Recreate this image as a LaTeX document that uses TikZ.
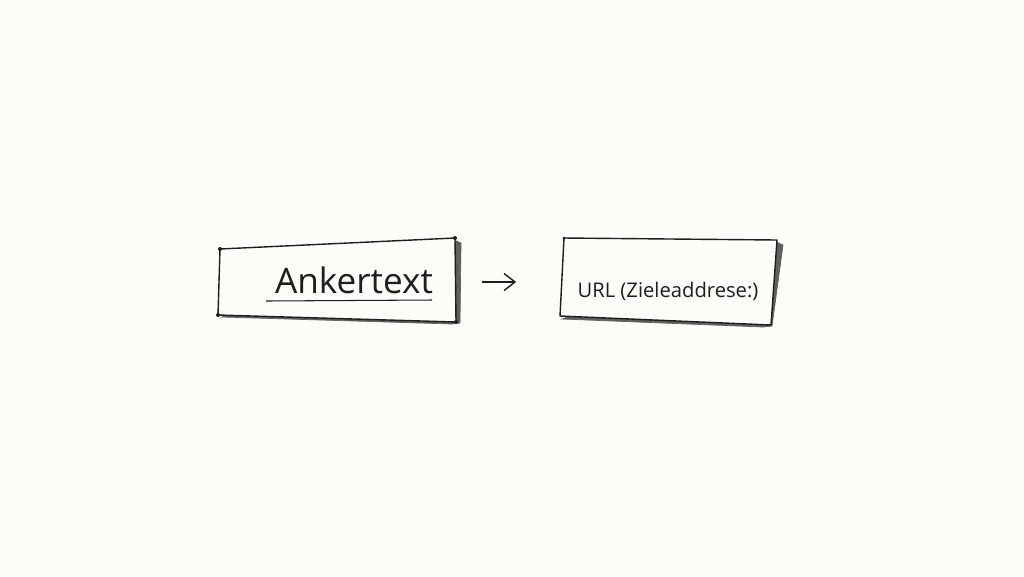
\documentclass[tikz,border=0pt]{standalone}
\usepackage{fontspec}
\setmainfont{Open Sans}
\usepackage{tikz}
\usetikzlibrary{calc,arrows.meta}
\definecolor{paper}{RGB}{252,252,249}
\definecolor{ink}{RGB}{30,30,30}
\definecolor{shade}{RGB}{95,95,92}
\tikzset{
  sketch/.style  = {draw=ink, line width=0.8pt, fill=paper, line join=round},
  shadow/.style  = {fill=shade, draw=shade, line width=0.4pt},
  corner/.style  = {fill=ink},
  link/.style    = {-{Straight Barb[length=2.2mm,width=3.4mm]}, draw=ink, line width=0.8pt},
  bigword/.style = {font=\fontsize{20}{24}\selectfont, text=ink},
  smallword/.style = {font=\fontsize{11.5}{14}\selectfont, text=ink},
  frame/.style   = {inner sep=0pt}
}

\begin{document}
\begin{tikzpicture}[x=0.02cm, y=-0.02cm]
    % page
    \fill[paper] (0,0) rectangle (1024,576);
    \useasboundingbox (0,0) rectangle (1024,576);

    % left box (anchor text)
    \path[shadow] (454,240) -- (461,243) -- (460,323) -- (452,324) -- (222,317) -- cycle;
    \path[sketch] (220,249) -- (455,238) -- (456,322) -- (218,315) -- cycle;
    \foreach \p in {(220,249),(455,238),(456,322),(218,315)}
      \fill[corner] \p circle[radius=2];
    \node[frame, minimum width=4.72cm, minimum height=1.6cm] (anker) at (337,280) {};
    \node[bigword] (ankertext) at (354,280) {Ankertext};
    \draw[ink, line width=0.6pt] (266,301) -- (432,300);

    % right box (target url)
    \path[shadow] (776,242) -- (783,245) -- (772,326) -- (763,327) -- (562,319) -- cycle;
    \path[sketch] (564,238) -- (777,240) -- (771,325) -- (560,316) -- cycle;
    \fill[corner] (564,238) circle[radius=1.5];
    \node[frame, minimum width=4.34cm, minimum height=1.6cm] (ziel) at (668,280) {};
    \node[smallword] (url) at (668,291) {URL (Zieleaddrese:)};

    % arrow between the boxes
    \draw[link] ($(anker.east)+(27,2)$) -- ($(ziel.west)+(-43,2)$);
\end{tikzpicture}
\end{document}
